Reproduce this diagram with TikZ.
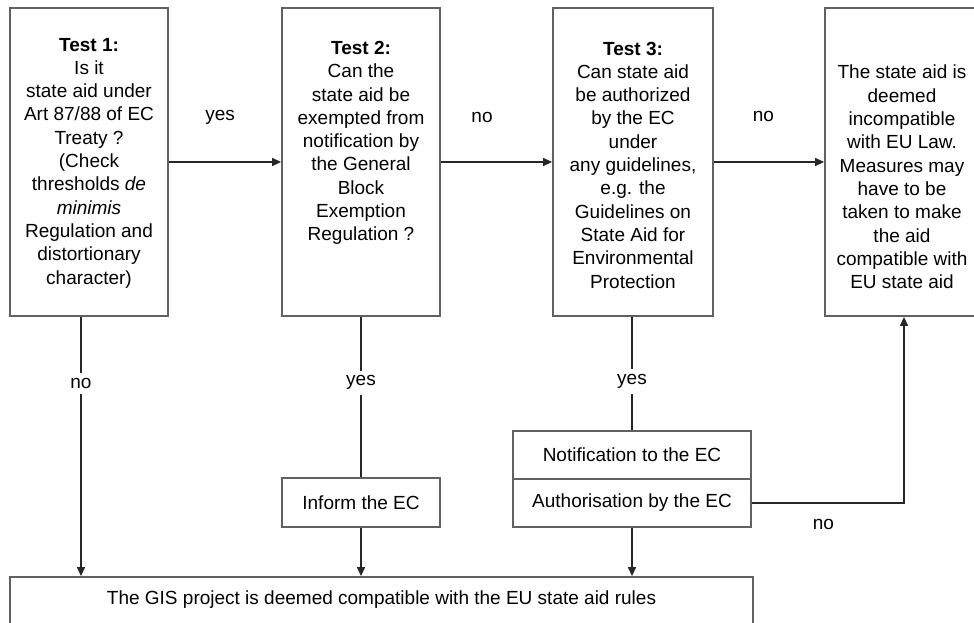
\documentclass[tikz,border=0pt]{standalone}
\usepackage{fontspec}
\setmainfont{Liberation Sans}
\usetikzlibrary{arrows.meta,calc}
\begin{document}
\begin{tikzpicture}[x=1pt,y=-1pt,
  box/.style={draw=black!62, line width=1.8pt, rectangle, inner sep=0pt},
  txt/.style={align=center, font=\fontsize{19}{23.3}\selectfont, inner sep=0pt},
  conn/.style={draw=black!85, line width=1.3pt},
  arr/.style={conn, -{Triangle[length=9pt,width=8pt]}},
  lbl/.style={font=\fontsize{19}{23.3}\selectfont, inner sep=1pt},
  vlbl/.style={lbl, fill=white, inner ysep=5pt},
]
\clip (0,0) rectangle (974,623);
\fill[white] (0,0) rectangle (974,623);
% main boxes
\node[box, minimum width=158pt, minimum height=308pt] (t1) at (89,162) {};
\node[box, minimum width=158pt, minimum height=308pt] (t2) at (361,162) {};
\node[box, minimum width=160pt, minimum height=308pt] (t3) at (633,162) {};
\node[box, minimum width=158pt, minimum height=308pt] (t4) at (904,162) {};
% texts
\node[txt] (t1txt) at (89,163) {\textbf{Test 1:}\\Is it\\state aid under\\Art 87/88 of EC\\Treaty ?\\(Check\\thresholds \textit{de}\\\textit{minimis}\\Regulation and\\distortionary\\character)};
\node[txt] (t2txt) at (361,143) {\textbf{Test 2:}\\Can the\\state aid be\\exempted from\\notification by\\the General\\Block\\Exemption\\Regulation ?};
\node[txt] (t3txt) at (633,165) {\textbf{Test 3:}\\Can state aid\\be authorized\\by the EC\\under\\any guidelines,\\e.g. the\\Guidelines on\\State Aid for\\Environmental\\Protection};
\node[txt] (t4txt) at (902,177) {The state aid is\\deemed\\incompatible\\with EU Law.\\Measures may\\have to be\\taken to make\\the aid\\compatible with\\EU state aid};
% lower boxes
\node[box, txt, minimum width=158pt, minimum height=49pt] (inf) at (361,502.5) {Inform the EC};
\node[box, txt, minimum width=238pt, minimum height=48pt] (notif) at (632,455) {Notification to the EC};
\node[box, txt, minimum width=238pt, minimum height=48pt] (auth) at (632,503) {Authorisation by the EC};
\node[box, minimum width=743pt, minimum height=53pt] (bot) at (381.5,603.5) {};
\node[txt] (bottxt) at (381.5,600) {The GIS project is deemed compatible with the EU state aid rules};
% connectors
\draw[arr] (t1.east) -- node[lbl, pos=0.456, yshift=45pt] {yes} (t2.west);
\draw[arr] (t2.east) -- node[lbl, pos=0.37, yshift=45pt] {no} (t3.west);
\draw[arr] (t3.east) -- node[lbl, pos=0.45, yshift=46pt] {no} (t4.west);
\draw[arr] ([xshift=-8pt]t1.south) -- node[vlbl, pos=0.257] {no} ([xshift=-8pt]t1.south |- bot.north);
\draw[conn] (t2.south) -- node[vlbl, pos=0.41] {yes} (inf.north);
\draw[arr] (inf.south) -- (inf.south |- bot.north);
\draw[conn] (t3.south -| notif.north) -- node[vlbl, pos=0.57] {yes} (notif.north);
\draw[arr] (auth.south) -- (auth.south |- bot.north);
\draw[arr] (auth.east) -| node[lbl, pos=0.235, yshift=-21pt] {no} (t4.south);
\end{tikzpicture}
\end{document}
